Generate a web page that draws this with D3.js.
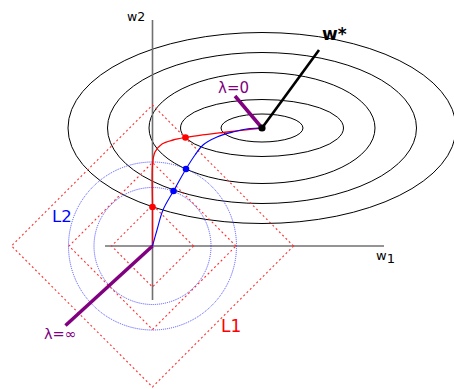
<!DOCTYPE html>
<html>
<head>
<meta charset="utf-8">
<script src="https://cdn.jsdelivr.net/npm/d3@7"></script>
<style>
  html, body { margin: 0; padding: 0; background: #fff; }
  svg { display: block; }
  text { font-family: "DejaVu Sans", sans-serif; }
</style>
</head>
<body>
<svg id="chart" width="454" height="389"></svg>
<script>
// Unregularised optimum w*
const wStar = [10.95, 11.8];

// Loss contours around w* (semi-axes along w1 and w2)
const contourRx = [4.1, 8.15, 11.3, 15.45, 19.4];
const contourRy = [1.4, 2.85, 5.55, 7.55, 9.55];

// Constraint regions centred on the origin
const l1Radii = [4.1, 8.35, 14.1];
const l2Radii = [5.85, 8.4];

// Regularisation paths from lambda = infinity (origin) to lambda = 0 (w*)
const l1Path = [[0, 0], [0, 3.9], [0, 8.1], [0.25, 9.4], [0.95, 10.2], [2.05, 10.6],
                [3.3, 10.85], [7.05, 11.35], [10.95, 11.8]];
const l2Path = [[0, 0], [0.45, 1.6], [1.05, 3.6], [2.1, 5.5], [3.35, 7.7], [4.25, 9.1],
                [5.05, 10.1], [6.45, 10.9], [8.05, 11.4], [9.75, 11.75], [10.95, 11.8]];

// Solutions where each path touches a contour
const l1Points = [[0, 3.9], [3.3, 10.85]];
const l2Points = [[2.1, 5.5], [3.35, 7.7]];

// Axis extents
const w1Extent = [-4.75, 23.15];
const w2Extent = [-5.4, 22.6];

// Pointer ends for annotations
const wStarLabelEnd = [16.65, 19.6];
const lambda0End = [8.25, 15.0];
const lambdaInfEnd = [-8.7, -7.95];

const W = 454, H = 389;
const svg = d3.select("#chart");

const x = d3.scaleLinear().domain([-15.25, 30.15]).range([0, W]);
const y = d3.scaleLinear().domain([-14.3, 24.6]).range([H, 0]);
const px = x(1) - x(0);

// contours
svg.append("g").selectAll("ellipse")
  .data(contourRx.map((rx, i) => ({ rx, ry: contourRy[i] })))
  .join("ellipse")
  .attr("cx", x(wStar[0])).attr("cy", y(wStar[1]))
  .attr("rx", d => d.rx * px).attr("ry", d => d.ry * px)
  .attr("fill", "none").attr("stroke", "#000").attr("stroke-width", 1);

// axes
const axes = svg.append("g").attr("stroke", "#707070").attr("stroke-width", 1.6);
axes.append("line")
  .attr("x1", x(w1Extent[0])).attr("x2", x(w1Extent[1]))
  .attr("y1", y(0)).attr("y2", y(0));
axes.append("line")
  .attr("x1", x(0)).attr("x2", x(0))
  .attr("y1", y(w2Extent[0])).attr("y2", y(w2Extent[1]));

// L1 balls (diamonds)
svg.append("g").selectAll("path")
  .data(l1Radii)
  .join("path")
  .attr("d", r => d3.line()([[x(r), y(0)], [x(0), y(r)], [x(-r), y(0)], [x(0), y(-r)]]) + "Z")
  .attr("fill", "none").attr("stroke", "#ff3030").attr("stroke-width", 1.1)
  .attr("stroke-dasharray", "2,2.6");

// L2 balls (circles)
svg.append("g").selectAll("circle")
  .data(l2Radii)
  .join("circle")
  .attr("cx", x(0)).attr("cy", y(0)).attr("r", r => r * px)
  .attr("fill", "none").attr("stroke", "#4a4aff").attr("stroke-width", 1)
  .attr("stroke-dasharray", "1,1");

// regularisation paths
const line = d3.line().x(d => x(d[0])).y(d => y(d[1])).curve(d3.curveCatmullRom.alpha(0.5));
svg.append("path").attr("d", line(l1Path))
  .attr("fill", "none").attr("stroke", "#ff0000").attr("stroke-width", 1.3);
svg.append("path").attr("d", line(l2Path))
  .attr("fill", "none").attr("stroke", "#0000ff").attr("stroke-width", 1.1);

svg.append("g").selectAll("circle")
  .data(l1Points).join("circle")
  .attr("cx", d => x(d[0])).attr("cy", d => y(d[1])).attr("r", 3.3)
  .attr("fill", "#ff0000");
svg.append("g").selectAll("circle")
  .data(l2Points).join("circle")
  .attr("cx", d => x(d[0])).attr("cy", d => y(d[1])).attr("r", 3.3)
  .attr("fill", "#0000ff");

// annotation pointers
svg.append("line")
  .attr("x1", x(wStar[0])).attr("y1", y(wStar[1]))
  .attr("x2", x(wStarLabelEnd[0])).attr("y2", y(wStarLabelEnd[1]))
  .attr("stroke", "#000").attr("stroke-width", 2.6);
svg.append("line")
  .attr("x1", x(lambda0End[0])).attr("y1", y(lambda0End[1]))
  .attr("x2", x(wStar[0])).attr("y2", y(wStar[1]))
  .attr("stroke", "#800080").attr("stroke-width", 3.5);
svg.append("line")
  .attr("x1", x(0)).attr("y1", y(0))
  .attr("x2", x(lambdaInfEnd[0])).attr("y2", y(lambdaInfEnd[1]))
  .attr("stroke", "#800080").attr("stroke-width", 3.5);

svg.append("circle")
  .attr("cx", x(wStar[0])).attr("cy", y(wStar[1])).attr("r", 3.6)
  .attr("fill", "#000");

// labels
svg.append("text").attr("x", 127).attr("y", 21)
  .attr("font-size", 12.5).attr("fill", "#000").text("w2");

const w1 = svg.append("text").attr("x", 376).attr("y", 260)
  .attr("font-size", 13).attr("fill", "#000");
w1.append("tspan").text("w");
w1.append("tspan").attr("dy", 3).text("1");

svg.append("text").attr("x", 322).attr("y", 40)
  .attr("font-size", 17).attr("font-weight", "bold").attr("fill", "#000").text("w*");

svg.append("text").attr("x", 218).attr("y", 93)
  .attr("font-size", 15).attr("fill", "#800080").text("λ=0");
svg.append("text").attr("x", 44).attr("y", 339)
  .attr("font-size", 14.5).attr("fill", "#800080").text("λ=∞");

svg.append("text").attr("x", 52).attr("y", 222)
  .attr("font-size", 16.5).attr("fill", "#0000ff").text("L2");
svg.append("text").attr("x", 221).attr("y", 332)
  .attr("font-size", 17).attr("fill", "#ff0000").text("L1");
</script>
</body>
</html>
